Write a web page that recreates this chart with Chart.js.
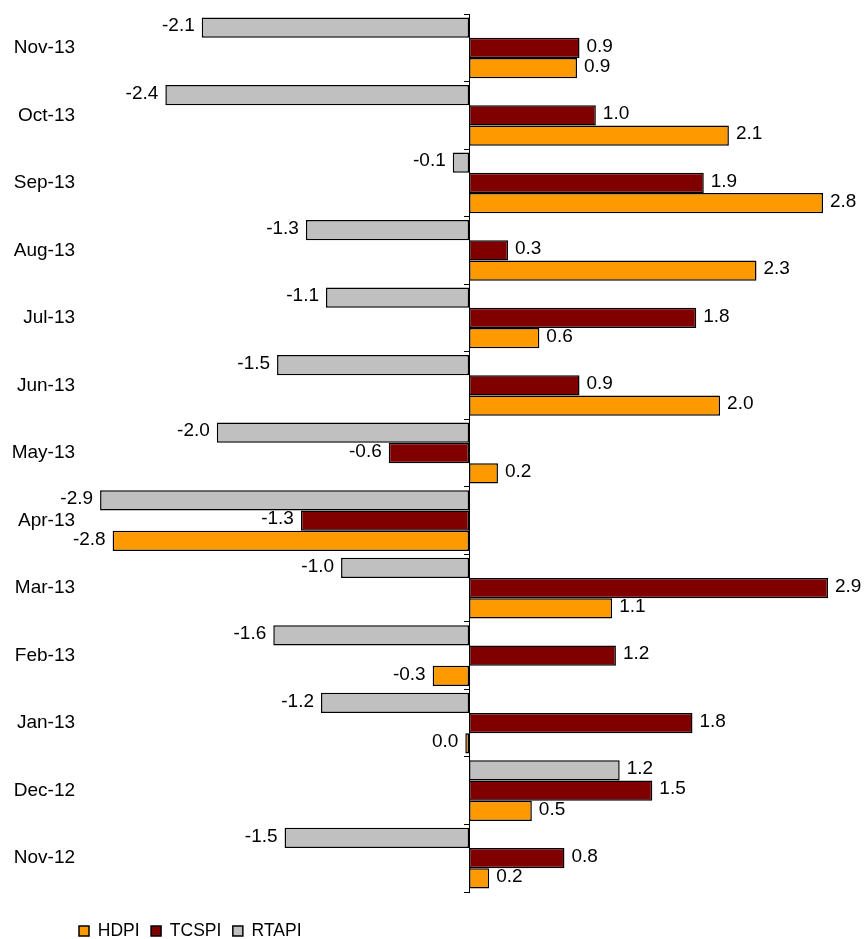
<!DOCTYPE html>
<html><head><meta charset="utf-8">
<script src="https://cdn.jsdelivr.net/npm/chart.js@4.4.1/dist/chart.umd.min.js"></script>
<style>html,body{margin:0;padding:0;background:#fff;} #wrap{width:864px;height:939px;position:relative;}</style>
</head><body><div id="wrap"><canvas id="c"></canvas></div>
<script>
const categories = ['Nov-13','Oct-13','Sep-13','Aug-13','Jul-13','Jun-13','May-13','Apr-13','Mar-13','Feb-13','Jan-13','Dec-12','Nov-12'];
const rtapi = [-2.13,-2.42,-0.13,-1.30,-1.14,-1.53,-2.01,-2.94,-1.02,-1.56,-1.18,1.20,-1.47];
const tcspi = [0.88,1.01,1.87,0.31,1.81,0.88,-0.64,-1.34,2.86,1.17,1.78,1.46,0.76];
const hdpi  = [0.86,2.07,2.82,2.29,0.56,2.00,0.23,-2.84,1.14,-0.29,-0.03,0.50,0.16];
const seriesNames = ['RTAPI','TCSPI','HDPI'];

const FONT = '"Liberation Sans", Arial, sans-serif';

const valueLabels = {
  id: 'valueLabels',
  afterDatasetsDraw(chart) {
    const {ctx} = chart;
    ctx.save();
    ctx.font = '19px ' + FONT;
    ctx.fillStyle = '#000';
    ctx.textBaseline = 'middle';
    chart.data.datasets.forEach((ds, di) => {
      const meta = chart.getDatasetMeta(di);
      meta.data.forEach((bar, i) => {
        const v = ds.data[i];
        let t = v.toFixed(1);
        if (t === '-0.0') t = '0.0';
        const neg = v < 0;
        ctx.textAlign = neg ? 'right' : 'left';
        ctx.fillText(t, bar.x + (neg ? -7 : 7), bar.y - 1.5);
      });
    });
    ctx.restore();
  }
};

new Chart(document.getElementById('c'), {
  type: 'bar',
  data: {
    labels: categories,
    datasets: [
      {label: seriesNames[0], data: rtapi, backgroundColor: '#C0C0C0', borderColor: '#000', borderWidth: 1.5, borderSkipped: false},
      {label: seriesNames[1], data: tcspi, backgroundColor: '#800000', borderColor: '#000', borderWidth: 1.5, borderSkipped: false},
      {label: seriesNames[2], data: hdpi,  backgroundColor: '#FF9900', borderColor: '#000', borderWidth: 1.5, borderSkipped: false}
    ]
  },
  options: {
    indexAxis: 'y',
    responsive: true,
    maintainAspectRatio: false,
    animation: false,
    categoryPercentage: 0.9,
    barPercentage: 1.0,
    layout: {padding: {left: 67.5, right: 18.4, top: 14, bottom: -10.75}},
    scales: {
      x: {type: 'linear', min: -3.1, max: 3.0, display: false, afterFit: s => { s.height = 18.75; }},
      y: {
        type: 'category', position: {x: 0}, offset: true,
        ticks: {display: false},
        grid: {display: true, drawOnChartArea: false, drawTicks: true, tickLength: 5, color: '#000', tickColor: '#000', lineWidth: 1, offset: true},
        border: {display: true, color: '#000', width: 1}
      },
      yLab: {
        type: 'category', labels: categories, position: 'left', offset: true,
        grid: {display: false, drawTicks: false},
        border: {display: false},
        ticks: {color: '#000', mirror: true, crossAlign: 'far', padding: -68.3, font: {family: FONT, size: 19}},
        afterFit: s => { s.width = 12.5; }
      }
    },
    plugins: {
      legend: {
        position: 'bottom', align: 'start', reverse: true,
        labels: {boxWidth: 10, boxHeight: 10, padding: 11.5, color: '#000', font: {family: FONT, size: 17.5}}
      },
      tooltip: {enabled: false}
    }
  },
  plugins: [valueLabels]
});
</script>
</body></html>
